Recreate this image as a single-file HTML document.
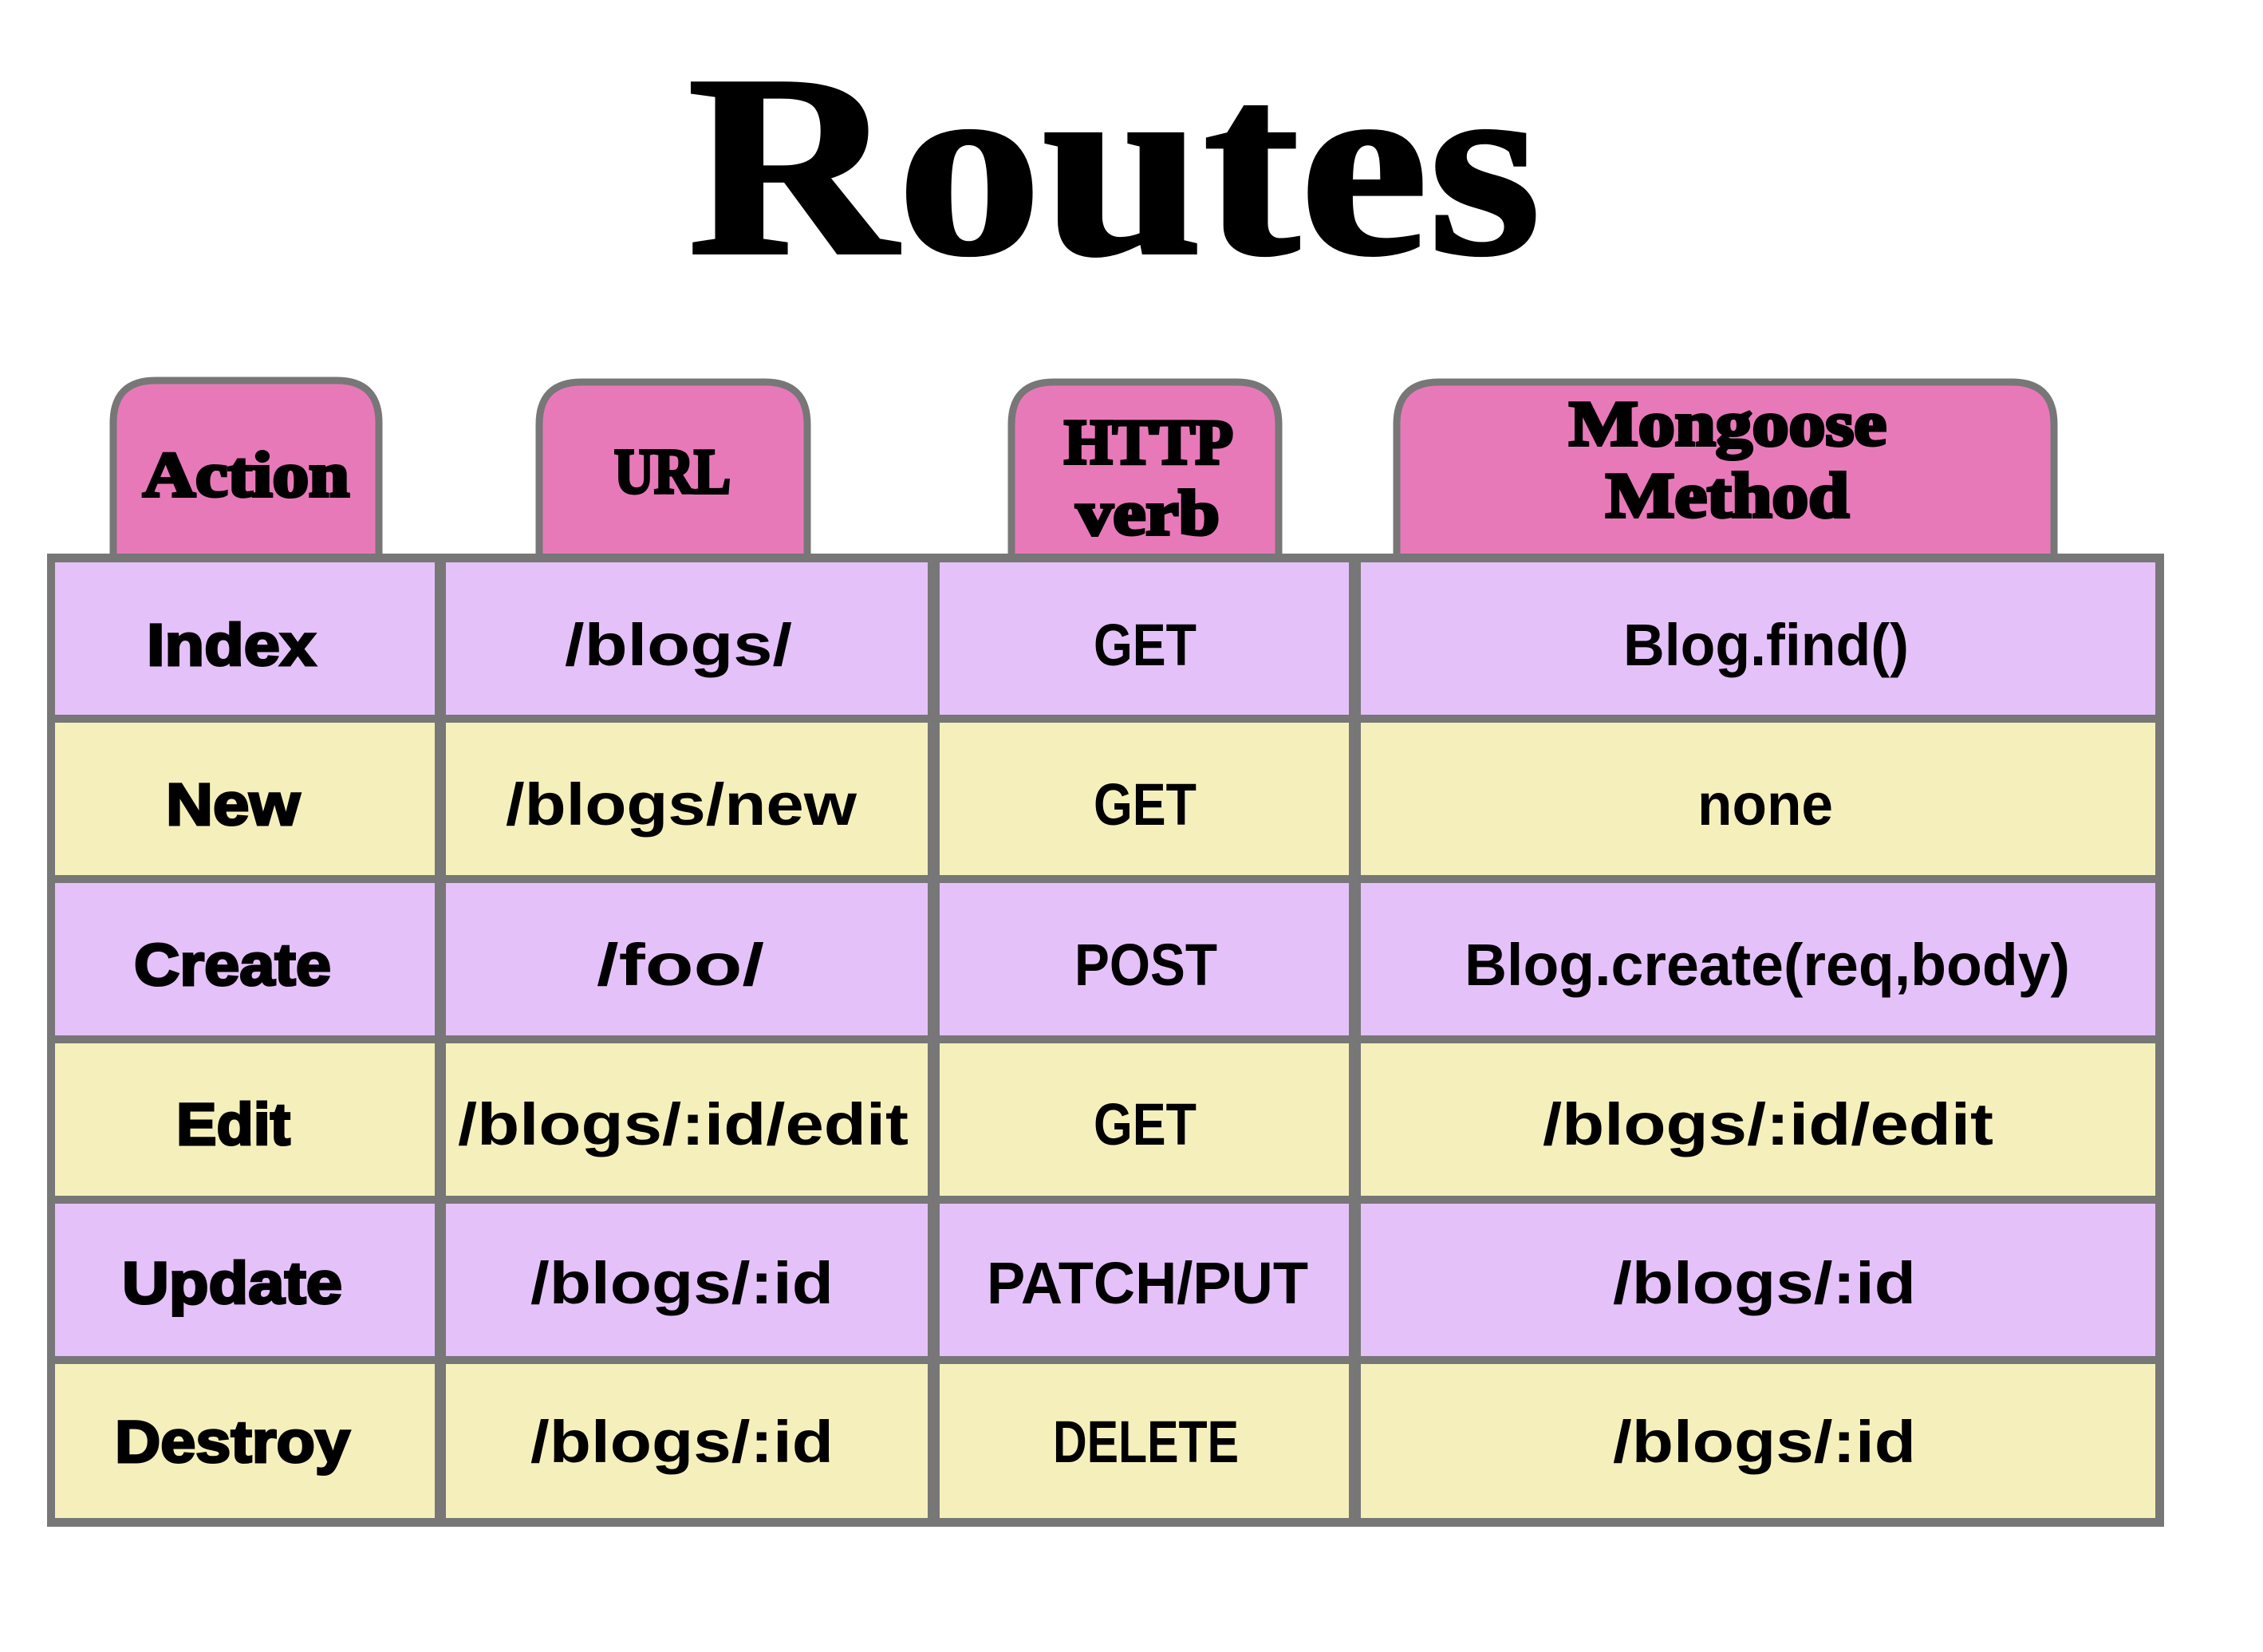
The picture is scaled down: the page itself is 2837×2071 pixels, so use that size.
<!DOCTYPE html>
<html><head><meta charset="utf-8"><style>
html,body{margin:0;padding:0;background:#fff;}
svg{display:block;}
.t{font-family:"Liberation Serif",serif;font-weight:bold;fill:#000;stroke:#000;stroke-width:4px;}
.a{font-family:"Liberation Sans",sans-serif;font-weight:bold;fill:#000;font-size:74px;stroke:#000;stroke-width:3px;}
.v{font-family:"Liberation Sans",sans-serif;font-weight:bold;fill:#000;font-size:74px;}
</style></head><body>
<svg width="2837" height="2071" viewBox="0 0 2837 2071" xmlns="http://www.w3.org/2000/svg">
<rect width="2837" height="2071" fill="#fff"/>
<text class="t" x="862" y="317" font-size="325" textLength="1070" lengthAdjust="spacingAndGlyphs" stroke="#000" stroke-width="12">Routes</text>

<g fill="#e879b9" stroke="#777" stroke-width="9">
<path d="M142 700 V530 Q142 477 195 477 H422 Q475 477 475 530 V700 Z"/>
<path d="M676 700 V532 Q676 479 729 479 H959 Q1012 479 1012 532 V700 Z"/>
<path d="M1268 700 V532 Q1268 479 1321 479 H1550 Q1603 479 1603 532 V700 Z"/>
<path d="M1751 700 V532 Q1751 479 1804 479 H2522 Q2575 479 2575 532 V700 Z"/>
</g>
<text class="t" x="179" y="622" font-size="80" textLength="259" lengthAdjust="spacingAndGlyphs">Action</text>
<text class="t" x="770" y="618" font-size="80" textLength="146" lengthAdjust="spacingAndGlyphs">URL</text>
<text class="t" x="1334" y="581" font-size="80" textLength="212" lengthAdjust="spacingAndGlyphs">HTTP</text>
<text class="t" x="1349" y="670" font-size="80" textLength="180" lengthAdjust="spacingAndGlyphs">verb</text>
<text class="t" x="1967" y="558" font-size="80" textLength="398" lengthAdjust="spacingAndGlyphs">Mongoose</text>
<text class="t" x="2013" y="648" font-size="80" textLength="305" lengthAdjust="spacingAndGlyphs">Method</text>

<rect x="59" y="694" width="2654" height="1220" fill="#777"/>
<g fill="#e5c1f9">
<rect x="69" y="705" width="476" height="191"/><rect x="559" y="705" width="604" height="191"/><rect x="1178" y="705" width="513" height="191"/><rect x="1706" y="705" width="996" height="191"/>
<rect x="69" y="1107" width="476" height="191"/><rect x="559" y="1107" width="604" height="191"/><rect x="1178" y="1107" width="513" height="191"/><rect x="1706" y="1107" width="996" height="191"/>
<rect x="69" y="1509" width="476" height="191"/><rect x="559" y="1509" width="604" height="191"/><rect x="1178" y="1509" width="513" height="191"/><rect x="1706" y="1509" width="996" height="191"/>
</g>
<g fill="#f5f0bb">
<rect x="69" y="906" width="476" height="191"/><rect x="559" y="906" width="604" height="191"/><rect x="1178" y="906" width="513" height="191"/><rect x="1706" y="906" width="996" height="191"/>
<rect x="69" y="1308" width="476" height="191"/><rect x="559" y="1308" width="604" height="191"/><rect x="1178" y="1308" width="513" height="191"/><rect x="1706" y="1308" width="996" height="191"/>
<rect x="69" y="1710" width="476" height="193"/><rect x="559" y="1710" width="604" height="193"/><rect x="1178" y="1710" width="513" height="193"/><rect x="1706" y="1710" width="996" height="193"/>
</g>

<text class="a" x="184" y="834" textLength="212" lengthAdjust="spacingAndGlyphs">Index</text>
<text class="a" x="208" y="1034" textLength="168" lengthAdjust="spacingAndGlyphs">New</text>
<text class="a" x="168" y="1235" textLength="247" lengthAdjust="spacingAndGlyphs">Create</text>
<text class="a" x="221" y="1435" textLength="143" lengthAdjust="spacingAndGlyphs">Edit</text>
<text class="a" x="153" y="1634" textLength="276" lengthAdjust="spacingAndGlyphs">Update</text>
<text class="a" x="144" y="1833" textLength="295" lengthAdjust="spacingAndGlyphs">Destroy</text>

<text class="v" x="708" y="834" textLength="285" lengthAdjust="spacingAndGlyphs">/blogs/</text>
<text class="v" x="634" y="1034" textLength="440" lengthAdjust="spacingAndGlyphs">/blogs/new</text>
<text class="v" x="748" y="1235" textLength="210" lengthAdjust="spacingAndGlyphs">/foo/</text>
<text class="v" x="574" y="1435" textLength="565" lengthAdjust="spacingAndGlyphs">/blogs/:id/edit</text>
<text class="v" x="665" y="1634" textLength="380" lengthAdjust="spacingAndGlyphs">/blogs/:id</text>
<text class="v" x="665" y="1833" textLength="380" lengthAdjust="spacingAndGlyphs">/blogs/:id</text>

<text class="v" x="1371" y="834" textLength="129" lengthAdjust="spacingAndGlyphs">GET</text>
<text class="v" x="1371" y="1034" textLength="129" lengthAdjust="spacingAndGlyphs">GET</text>
<text class="v" x="1347" y="1235" textLength="179" lengthAdjust="spacingAndGlyphs">POST</text>
<text class="v" x="1371" y="1435" textLength="129" lengthAdjust="spacingAndGlyphs">GET</text>
<text class="v" x="1237" y="1634" textLength="403" lengthAdjust="spacingAndGlyphs">PATCH/PUT</text>
<text class="v" x="1320" y="1833" textLength="233" lengthAdjust="spacingAndGlyphs">DELETE</text>

<text class="v" x="2035" y="834" textLength="358" lengthAdjust="spacingAndGlyphs">Blog.find()</text>
<text class="v" x="2128" y="1034" textLength="170" lengthAdjust="spacingAndGlyphs">none</text>
<text class="v" x="1836" y="1235" textLength="759" lengthAdjust="spacingAndGlyphs">Blog.create(req,body)</text>
<text class="v" x="1934" y="1435" textLength="565" lengthAdjust="spacingAndGlyphs">/blogs/:id/edit</text>
<text class="v" x="2022" y="1634" textLength="380" lengthAdjust="spacingAndGlyphs">/blogs/:id</text>
<text class="v" x="2022" y="1833" textLength="380" lengthAdjust="spacingAndGlyphs">/blogs/:id</text>
</svg>
</body></html>
